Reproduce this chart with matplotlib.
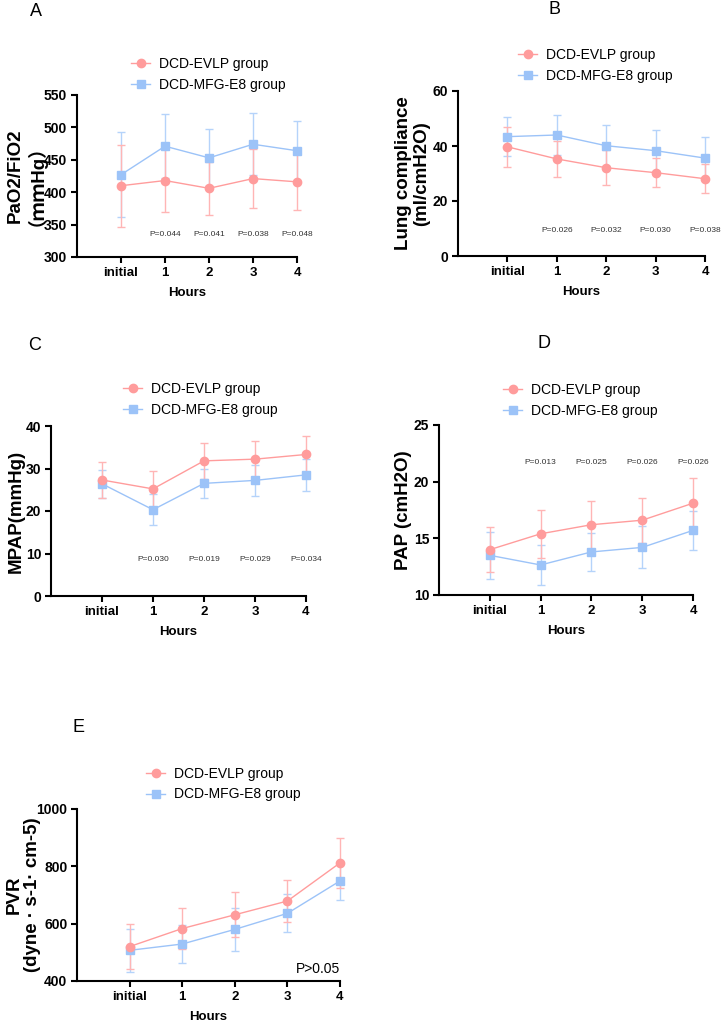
#!/usr/bin/env python3
# -*- coding: utf-8 -*-

import numpy as np
import matplotlib
matplotlib.use('Agg')
import matplotlib.pyplot as plt
from matplotlib.lines import Line2D

plt.rcParams['font.family'] = ['Liberation Sans', 'Noto Sans CJK SC', 'DejaVu Sans']

W, H = 724, 1026

hours = ['initial', '1', '2', '3', '4']
groups = ['DCD-EVLP group', 'DCD-MFG-E8 group']

# PaO2/FiO2
pf_evlp = [410, 418, 406, 421, 416]
pf_evlp_sd = [63, 48, 41, 45, 43]
pf_mfg = [427, 471, 453, 474, 464]
pf_mfg_sd = [66, 49, 44, 48, 46]
pf_p = ['P=0.044', 'P=0.041', 'P=0.038', 'P=0.048']

# Lung compliance
lc_evlp = [39.7, 35.3, 32.1, 30.3, 28.1]
lc_evlp_sd = [7.3, 6.5, 6.3, 5.3, 5.2]
lc_mfg = [43.4, 44.0, 40.1, 38.3, 35.6]
lc_mfg_sd = [7.0, 7.2, 7.4, 7.4, 7.6]
lc_p = ['P=0.026', 'P=0.032', 'P=0.030', 'P=0.038']

# MPAP
mp_evlp = [27.3, 25.2, 31.8, 32.2, 33.3]
mp_evlp_sd = [4.3, 4.3, 4.3, 4.2, 4.3]
mp_mfg = [26.4, 20.3, 26.5, 27.2, 28.5]
mp_mfg_sd = [3.3, 3.7, 3.5, 3.7, 3.8]
mp_p = ['P=0.030', 'P=0.019', 'P=0.029', 'P=0.034']

# PAP
pap_evlp = [14.0, 15.4, 16.2, 16.6, 18.1]
pap_evlp_sd = [2.0, 2.1, 2.1, 2.0, 2.2]
pap_mfg = [13.5, 12.65, 13.8, 14.2, 15.7]
pap_mfg_sd = [2.1, 1.8, 1.7, 1.85, 1.7]
pap_p = ['P=0.013', 'P=0.025', 'P=0.026', 'P=0.026']

# PVR
pvr_evlp = [520, 583, 631, 679, 812]
pvr_evlp_sd = [78, 73, 78, 74, 88]
pvr_mfg = [507, 529, 580, 636, 749]
pvr_mfg_sd = [74, 67, 74, 66, 66]

RED = '#FF9C9C'
RED_E = '#FFB5B5'
BLUE = '#9CC3F8'
BLUE_E = '#B5D3FA'


def box(l, t, r, b):
    return [l / W, 1 - b / H, (r - l) / W, (b - t) / H]


def panel(rect, evlp, evlp_sd, mfg, mfg_sd, ylim, yticks, ylabel, ylab_x,
          letter, letter_xy, leg_xy, pvals=None, p_y=None):
    ax = fig.add_axes(box(*rect))
    x = np.arange(len(hours))
    for m, sd, c, ce, mk, ms in [(mfg, mfg_sd, BLUE, BLUE_E, 's', 5.5),
                                 (evlp, evlp_sd, RED, RED_E, 'o', 6)]:
        _, caps, bars = ax.errorbar(x, m, yerr=sd, color=c, ecolor=ce,
                                    marker=mk, ms=ms, lw=1, elinewidth=1,
                                    capsize=3, capthick=1, clip_on=False)
        for a in list(caps) + list(bars):
            a.set_clip_on(False)
    ax.set_xlim(-1, 4)
    ax.set_ylim(*ylim)
    ax.set_xticks(x)
    ax.set_xticklabels(hours)
    ax.set_yticks(yticks)
    for s in ['top', 'right']:
        ax.spines[s].set_visible(False)
    for s in ['left', 'bottom']:
        ax.spines[s].set_linewidth(1.5)
    ax.tick_params(width=1.5, length=4, pad=3, labelsize=9.5)
    ax.tick_params(axis='y', labelsize=10)
    for t in ax.get_xticklabels() + ax.get_yticklabels():
        t.set_fontweight('bold')
    ax.set_xlabel('Hours', fontsize=9.5, fontweight='bold', labelpad=6)
    yc = 1 - (rect[1] + rect[3]) / 2 / H
    for lx, line in zip(ylab_x, ylabel):
        fig.text(lx / W, yc, line, rotation=90, ha='center', va='center',
                 fontsize=13.5, fontweight='bold')
    fig.text(letter_xy[0] / W, 1 - letter_xy[1] / H, letter, fontsize=13,
             ha='center', va='center')
    handles = [Line2D([], [], color=RED, marker='o', ms=6, lw=1),
               Line2D([], [], color=BLUE, marker='s', ms=5.5, lw=1)]
    ax.legend(handles, groups, loc='center left', frameon=False,
              bbox_to_anchor=(leg_xy[0] / W, 1 - leg_xy[1] / H),
              bbox_transform=fig.transFigure, fontsize=10, borderpad=0,
              handlelength=1.4, handletextpad=0.65, labelspacing=0.5)
    if pvals is not None:
        for i, p in enumerate(pvals):
            ax.text(i + 1, p_y, p, ha='center', va='center', fontsize=6,
                    color='#333333')
    return ax


fig = plt.figure(figsize=(W / 100, H / 100), dpi=100)

panel((77, 95, 297, 257), pf_evlp, pf_evlp_sd, pf_mfg, pf_mfg_sd,
      (300, 550), np.arange(300, 551, 50), ['PaO2/FiO2', '（ｍｍHg）'], [15, 27],
      'A', (36, 11), (124, 74.5), pf_p, 335)

panel((458, 91, 705, 256), lc_evlp, lc_evlp_sd, lc_mfg, lc_mfg_sd,
      (0, 60), np.arange(0, 61, 20), ['Lung compliance', '(ml/cmH2O)'],
      [404, 422], 'B', (555, 10), (511, 65.5), lc_p, 9.1)

panel((51, 426, 306, 596), mp_evlp, mp_evlp_sd, mp_mfg, mp_mfg_sd,
      (0, 40), np.arange(0, 41, 10), ['MPAP(mmHg)'], [16],
      'C', (35, 346), (116, 399.5), mp_p, 8.6)

panel((439, 425, 693, 595), pap_evlp, pap_evlp_sd, pap_mfg, pap_mfg_sd,
      (10, 25), np.arange(10, 26, 5), ['PAP (cmH2O)'], [404],
      'D', (544, 343), (496, 400.5), pap_p, 21.7)

ax = panel((77, 809, 340, 981), pvr_evlp, pvr_evlp_sd, pvr_mfg, pvr_mfg_sd,
           (400, 1000), np.arange(400, 1001, 200),
           ['PVR', '(dyne · s-1· cm-5)'], [14, 33],
           'E', (78, 727), (139, 784))
ax.text(4, 442, 'P>0.05', ha='right', va='center', fontsize=10)

fig.savefig('out.png', dpi=100)
